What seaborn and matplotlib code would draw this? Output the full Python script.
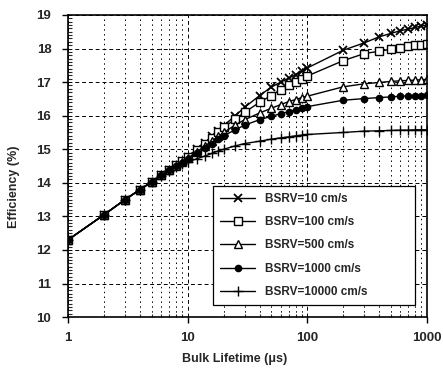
import numpy as np
import pandas as pd
import matplotlib
matplotlib.use("Agg")
import matplotlib.pyplot as plt
import seaborn as sns
from matplotlib.ticker import MultipleLocator, LogLocator, NullFormatter, FixedLocator

# %% Data
lifetime = [1, 2, 3, 4, 5, 6, 7, 8, 9, 10, 12, 14, 16, 18, 20, 25, 30,
            40, 50, 60, 70, 80, 90, 100, 200, 300, 400, 500, 600, 700, 800, 900, 1000]

eff_10 = [12.3, 13.05, 13.5, 13.8, 14.03, 14.22, 14.38, 14.52, 14.65, 14.78, 15.0, 15.2, 15.38,
          15.55, 15.7, 16.0, 16.25, 16.6, 16.85, 17.0, 17.12, 17.22, 17.32, 17.42,
          17.95, 18.17, 18.35, 18.45, 18.53, 18.58, 18.63, 18.67, 18.7]
eff_100 = [12.3, 13.05, 13.5, 13.8, 14.03, 14.22, 14.38, 14.52, 14.64, 14.76, 14.98, 15.17, 15.34,
           15.5, 15.65, 15.9, 16.1, 16.4, 16.6, 16.78, 16.9, 17.0, 17.1, 17.18,
           17.64, 17.85, 17.92, 17.98, 18.03, 18.07, 18.1, 18.12, 18.14]
eff_500 = [12.3, 13.05, 13.5, 13.8, 14.03, 14.22, 14.38, 14.51, 14.62, 14.73, 14.93, 15.1, 15.25,
           15.38, 15.5, 15.72, 15.88, 16.08, 16.22, 16.33, 16.42, 16.48, 16.54, 16.58,
           16.86, 16.95, 16.99, 17.02, 17.04, 17.05, 17.06, 17.07, 17.08]
eff_1000 = [12.3, 13.05, 13.5, 13.8, 14.03, 14.22, 14.37, 14.5, 14.6, 14.7, 14.88, 15.04, 15.17,
            15.3, 15.4, 15.58, 15.72, 15.88, 15.98, 16.06, 16.12, 16.18, 16.23, 16.27,
            16.46, 16.51, 16.54, 16.56, 16.58, 16.59, 16.6, 16.6, 16.61]
eff_10000 = [12.3, 13.05, 13.5, 13.8, 14.02, 14.2, 14.35, 14.48, 14.56, 14.62, 14.72, 14.8, 14.88,
             14.95, 15.0, 15.1, 15.17, 15.24, 15.3, 15.34, 15.37, 15.4, 15.42, 15.44,
             15.5, 15.54, 15.55, 15.56, 15.57, 15.57, 15.58, 15.58, 15.58]

labels = ["BSRV=10 cm/s", "BSRV=100 cm/s", "BSRV=500 cm/s",
          "BSRV=1000 cm/s", "BSRV=10000 cm/s"]
series = [eff_10, eff_100, eff_500, eff_1000, eff_10000]

# %% Style
sns.set_style("ticks")
plt.rcParams["font.family"] = ["Liberation Sans", "DejaVu Sans"]
plt.rcParams["font.weight"] = "bold"

fig = plt.figure(figsize=(4.43, 3.70), dpi=100)
ax = fig.add_axes([0.1535, 0.143, 0.81, 0.8165])

styles = [
    dict(marker="x", ms=5.5, mew=1.3, mfc="black"),
    dict(marker="s", ms=5.5, mew=1.0, mfc="white"),
    dict(marker="^", ms=5.5, mew=1.0, mfc="white"),
    dict(marker="o", ms=4.5, mew=1.0, mfc="black"),
    dict(marker="+", ms=7, mew=1.0, mfc="black"),
]

for lab, vals, st in zip(labels, series, styles):
    sns.lineplot(x=lifetime, y=vals, ax=ax, color="black", lw=1.0,
                 mec="black", label=lab, **st)

ax.set_xscale("log")
ax.set_xlim(1, 1000)
ax.set_ylim(10, 19)

# %% Ticks and grid
ax.yaxis.set_major_locator(MultipleLocator(1))
ax.yaxis.set_minor_locator(MultipleLocator(0.1))
ax.xaxis.set_major_locator(FixedLocator([1, 10, 100, 1000]))
ax.xaxis.set_minor_locator(LogLocator(base=10, subs=np.arange(2, 10)))
ax.xaxis.set_minor_formatter(NullFormatter())
ax.set_xticklabels(["1", "10", "100", "1000"])

ax.tick_params(axis="both", which="major", direction="out", length=4, width=1,
               labelsize=9.5, color="black")
ax.tick_params(axis="x", which="major", pad=7)
ax.tick_params(axis="y", which="major", pad=8)
ax.tick_params(axis="y", which="minor", direction="in", length=3, width=0.8)
ax.tick_params(axis="x", which="minor", direction="in", length=2, width=0.8)
for t in ax.get_xticklabels() + ax.get_yticklabels():
    t.set_fontweight("bold")

ax.grid(which="major", color="black", ls=(0, (4, 3)), lw=0.7)
ax.grid(which="minor", axis="x", color="black", ls=(0, (1.5, 3.5)), lw=0.7)
ax.set_axisbelow(True)

for sp in ax.spines.values():
    sp.set_color("black")
    sp.set_linewidth(1.2)

ax.set_xlabel("Bulk Lifetime (\u03bcs)", fontsize=9, fontweight="bold")
ax.set_ylabel("Efficiency (%)", fontsize=9, fontweight="bold")
ax.xaxis.set_label_coords(0.465, -0.12)
ax.yaxis.set_label_coords(-0.135, 0.43)

leg = ax.legend(loc="lower left", bbox_to_anchor=(0.404, 0.04, 0.563, 0.38),
                mode="expand", borderaxespad=0, frameon=True, fancybox=False,
                edgecolor="black", framealpha=1, handlelength=3, labelspacing=0.95,
                borderpad=0.6, prop={"weight": "bold", "size": 8.5})
leg.get_frame().set_linewidth(0.9)

plt.savefig("out.png", dpi=100)
plt.close()
